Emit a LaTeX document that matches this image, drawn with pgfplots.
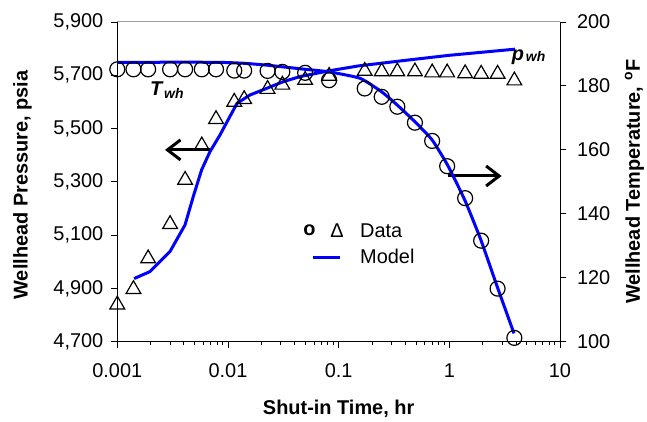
\documentclass[border=0pt]{standalone}
\usepackage{fontspec}
\setmainfont{Liberation Sans}
\usepackage{pgfplots}
\pgfplotsset{compat=1.18}
\usetikzlibrary{arrows.meta}

\newcommand{\fs}{\fontsize{20}{24}\selectfont}

\begin{document}
\begin{tikzpicture}
\useasboundingbox (-117.3bp,-80.3bp) rectangle (529.7bp,341.7bp);
% ---------------- Pressure (left axis)
\begin{axis}[
  scale only axis, width=442.7bp, height=319.7bp,
  xmode=log, xmin=0.001, xmax=10,
  clip=false,
  tick align=outside, major tick length=6.5bp,
  tick style={black, line width=0.9bp},
  axis line style={black, line width=0.9bp, -},
  tick label style={font=\fs},
  ymin=4700, ymax=5900,
  axis x line*=bottom, axis y line*=left,
  xtick={0.001,0.01,0.1,1,10}, xticklabels={0.001,0.01,0.1,1,10},
  minor xtick={},
  ytick={4700,4900,5100,5300,5500,5700,5900},
  yticklabels={{4,700},{4,900},{5,100},{5,300},{5,500},{5,700},{5,900}},
  xticklabel style={yshift=-12bp},
  yticklabel style={xshift=-4bp},
  xlabel={Shut-in Time, hr},
  ylabel={Wellhead Pressure, psia},
  xlabel style={font=\bfseries\fs, at={(axis description cs:0.5,-0.2105)}, anchor=center},
  ylabel style={font=\bfseries\fs, at={(axis description cs:-0.2141,0.49)}, anchor=center},
  legend style={at={(axis description cs:0.4195,0.377)}, anchor=north west,
    draw=none, fill=none, font=\fs, inner sep=0pt, row sep=7bp},
  legend cell align=left,
]
\addlegendimage{legend image code/.code={
   \node[anchor=west,inner sep=0pt,draw=none] at (0bp,0bp) {\textbf{o}};
   \node[anchor=west,inner sep=0pt,draw=none] at (27bp,0bp) {Δ};
   \path[draw=none,fill=none] (0bp,-8bp) rectangle (55bp,8bp);}}
\addlegendentry{Data}
\addlegendimage{legend image code/.code={
   \draw[blue, line width=3bp] (10bp,0bp) -- (37bp,0bp);
   \path[draw=none,fill=none] (0bp,-8bp) rectangle (55bp,8bp);}}
\addlegendentry{Model}

\draw[gray!75, line width=1bp] (rel axis cs:0,1) -- (rel axis cs:1,1);

% pressure model
\addplot[blue, line width=3bp, line join=round] coordinates {
(0.00142,4937) (0.00197,4963) (0.00299,5038) (0.00409,5138) (0.00486,5245)
(0.00578,5345) (0.00687,5413) (0.00847,5476) (0.0104,5545) (0.0121,5595)
(0.0158,5626) (0.0224,5651) (0.0316,5676) (0.0447,5695) (0.08,5716)
(0.15,5735) (0.44,5758) (1.0,5775) (3.92,5798)
};
% pressure data
\addplot[only marks, mark=triangle, mark size=8.5bp, mark options={black, line width=1.2bp}] coordinates {
(0.001,4839) (0.0014,4897) (0.0019,5012) (0.003,5141) (0.0041,5307)
(0.0058,5436) (0.0078,5535) (0.0114,5600) (0.014,5610) (0.0228,5648)
(0.031,5664) (0.0498,5682) (0.082,5697) (0.172,5716) (0.245,5714)
(0.339,5714) (0.489,5714) (0.70,5710) (0.956,5710) (1.39,5707)
(1.94,5705) (2.73,5705) (3.87,5680)
};

\node[anchor=west, inner sep=0pt, font=\bfseries\itshape\fs] at (axis cs:0.00197,5645)
  {T\hspace{2bp}\raisebox{-3bp}{\fontsize{14}{16}\selectfont wh}};
\node[anchor=west, inner sep=0pt, font=\bfseries\itshape\fs] at (axis cs:3.654,5769)
  {p\hspace{2bp}\raisebox{-1bp}{\fontsize{14}{16}\selectfont wh}};

\draw[-{Straight Barb[length=13bp,width=20bp]}, line width=3bp]
  (axis cs:0.00687,5420) -- (axis cs:0.0027,5420);
\draw[-{Straight Barb[length=13bp,width=20bp]}, line width=3bp]
  (axis cs:0.971,5322) -- (axis cs:2.968,5322);
\end{axis}

% ---------------- Temperature (right axis)
\begin{axis}[
  scale only axis, width=442.7bp, height=319.7bp,
  xmode=log, xmin=0.001, xmax=10,
  clip=false,
  tick align=outside, major tick length=6.5bp,
  tick style={black, line width=0.9bp},
  axis line style={black, line width=0.9bp, -},
  tick label style={font=\fs},
  ymin=100, ymax=200,
  hide x axis,
  axis y line*=right,
  ytick={100,120,140,160,180,200},
  yticklabels={100,120,140,160,180,200},
  yticklabel style={xshift=7bp},
  ylabel={Wellhead Temperature, \textsuperscript{o}F},
  ylabel style={font=\bfseries\fs, at={(axis description cs:1.1683,0.5)}, anchor=center},
]
\addplot[blue, line width=3bp, smooth, tension=0.3] coordinates {
(0.001,187.4) (0.0076,187.4) (0.0137,187.1) (0.0224,186.5) (0.05,185.2)
(0.082,184.4) (0.156,182.4) (0.244,178.2) (0.339,174.0) (0.489,168.8)
(0.70,163.1) (0.966,155.2) (1.38,144.3) (1.93,131.8) (2.71,117.2) (3.84,102.6)
};
\addplot[only marks, mark=o, mark size=7.5bp, mark options={black, line width=1.2bp}] coordinates {
(0.001,185.2) (0.0014,185.2) (0.0019,185.2) (0.003,185.2) (0.0041,185.2)
(0.0058,185.2) (0.0078,185.2) (0.0114,184.8) (0.014,184.8) (0.0228,184.7)
(0.031,184.4) (0.0498,184.1) (0.082,181.8) (0.172,179.2) (0.245,176.6)
(0.339,173.5) (0.489,168.5) (0.70,162.8) (0.956,154.9) (1.39,144.9)
(1.94,131.6) (2.73,116.6) (3.87,101.2)
};
\end{axis}
\end{tikzpicture}
\end{document}
